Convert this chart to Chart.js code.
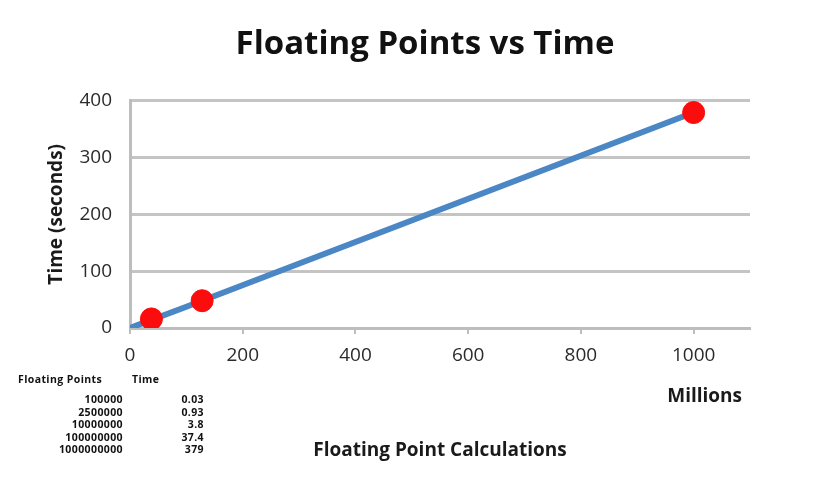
<!DOCTYPE html>
<html>
<head>
<meta charset="utf-8">
<script src="https://cdn.jsdelivr.net/npm/chart.js@4/dist/chart.umd.min.js"></script>
<style>
  html, body { margin: 0; padding: 0; background: #ffffff; }
  #wrap { position: relative; width: 825px; height: 482px; }
  canvas { position: absolute; left: 0; top: 0; }
  #tbl { position: absolute; left: 0; top: 0; width: 825px; height: 482px; pointer-events: none;
         font-family: "Open Sans", Lato, sans-serif; font-weight: bold; font-size: 10.5px; letter-spacing: 0.4px; color: #111; }
  #tbl div { position: absolute; white-space: nowrap; line-height: 12px; }
</style>
</head>
<body>
<div id="wrap">
  <canvas id="c" width="825" height="482"></canvas>
  <div id="tbl"></div>
</div>
<script>
// Table data (as shown under the chart)
const tableHeaders = ["Floating Points", "Time"];
const floatingPoints = [100000, 2500000, 10000000, 100000000, 1000000000];
const timeSeconds = [0.03, 0.93, 3.8, 37.4, 379];

// Line series (x in millions)
const lineX = floatingPoints.map(v => v / 1000000);
const lineY = timeSeconds;

// Red marker points
const markerX = [38, 128, 1000];
const markerY = [16, 48, 379];

// Axis ticks
const xTicks = [0, 200, 400, 600, 800, 1000];
const yTicks = [0, 100, 200, 300, 400];

const chartTitle = "Floating Points vs Time";
const xTitle = "Floating Point Calculations";
const yTitle = "Time (seconds)";
const xUnit = "Millions";

const FONT = "'Open Sans', Lato, sans-serif";

// Build the table as real text
(function () {
  const tbl = document.getElementById('tbl');
  function add(text, x, y, align) {
    const d = document.createElement('div');
    d.textContent = text;
    d.style.top = (y - 6) + 'px';
    if (align === 'right') { d.style.right = (825 - x) + 'px'; }
    else { d.style.left = x + 'px'; }
    tbl.appendChild(d);
  }
  add(tableHeaders[0], 18, 379, 'left');
  add(tableHeaders[1], 132, 379, 'left');
  const rowY = [399, 412, 424, 437, 449];
  floatingPoints.forEach((v, i) => {
    add(String(v), 123, rowY[i], 'right');
    add(String(timeSeconds[i]), 204, rowY[i], 'right');
  });
})();

const unitPlugin = {
  id: 'unitLabel',
  afterDraw(chart) {
    const ctx = chart.ctx;
    const xs = chart.scales.x;
    ctx.save();
    ctx.font = "bold 19px " + FONT;
    ctx.fillStyle = '#1a1a1a';
    ctx.textAlign = 'center';
    ctx.textBaseline = 'middle';
    ctx.fillText(xUnit, xs.getPixelForValue(1000) + 11, 397);
    ctx.restore();
  }
};

new Chart(document.getElementById('c'), {
  type: 'scatter',
  data: {
    datasets: [
      {
        label: 'Time',
        data: lineX.map((x, i) => ({ x: x, y: lineY[i] })),
        showLine: true,
        borderColor: '#4a87c4',
        backgroundColor: '#4a87c4',
        borderWidth: 6,
        pointRadius: 0,
        order: 2
      },
      {
        label: 'Markers',
        data: markerX.map((x, i) => ({ x: x, y: markerY[i] })),
        showLine: false,
        backgroundColor: '#fb0d0d',
        borderColor: '#fb0d0d',
        pointRadius: 11,
        order: 1
      }
    ]
  },
  options: {
    responsive: false,
    animation: false,
    layout: { padding: { left: 25, right: 0, top: 10, bottom: 0 } },
    plugins: {
      legend: { display: false },
      tooltip: { enabled: false },
      title: {
        display: true,
        text: chartTitle,
        color: '#111111',
        font: { family: FONT, size: 33, weight: 'bold', lineHeight: 1.2 },
        padding: { top: 15, bottom: 36 }
      }
    },
    scales: {
      x: {
        type: 'linear',
        min: 0,
        max: 1100,
        afterBuildTicks(scale) { scale.ticks = xTicks.map(v => ({ value: v })); },
        afterFit(scale) { scale.height = 154; },
        grid: { display: true, drawOnChartArea: false, drawTicks: true, tickLength: 6, color: '#bdbdbd', lineWidth: 2 },
        border: { display: true, color: '#bdbdbd', width: 3 },
        ticks: { color: '#2b2b2b', font: { family: FONT, size: 19 }, padding: 10, maxRotation: 0,
                 callback: v => String(v) },
        title: {
          display: true,
          text: xTitle,
          color: '#1a1a1a',
          font: { family: FONT, size: 19, weight: 'bold', lineHeight: 1.2 },
          padding: { top: 0, bottom: 20 }
        }
      },
      y: {
        type: 'linear',
        min: 0,
        max: 400,
        afterBuildTicks(scale) { scale.ticks = yTicks.map(v => ({ value: v })); },
        afterFit(scale) { scale.width = 105; },
        grid: { display: true, drawTicks: false, color: '#c4c4c4', lineWidth: 3 },
        border: { display: true, color: '#bdbdbd', width: 3 },
        ticks: { color: '#2b2b2b', font: { family: FONT, size: 19 }, padding: 18,
                 callback: v => String(v) },
        title: {
          display: true,
          text: yTitle,
          color: '#1a1a1a',
          font: { family: FONT, size: 19, weight: 'bold', lineHeight: 1.2 },
          padding: { top: 20, bottom: 0 }
        }
      },
      pad: {
        type: 'linear',
        position: 'right',
        display: true,
        afterFit(scale) { scale.width = 75; },
        grid: { display: false, drawTicks: false },
        border: { display: false },
        ticks: { display: false },
        title: { display: false }
      }
    }
  },
  plugins: [unitPlugin]
});
</script>
</body>
</html>
